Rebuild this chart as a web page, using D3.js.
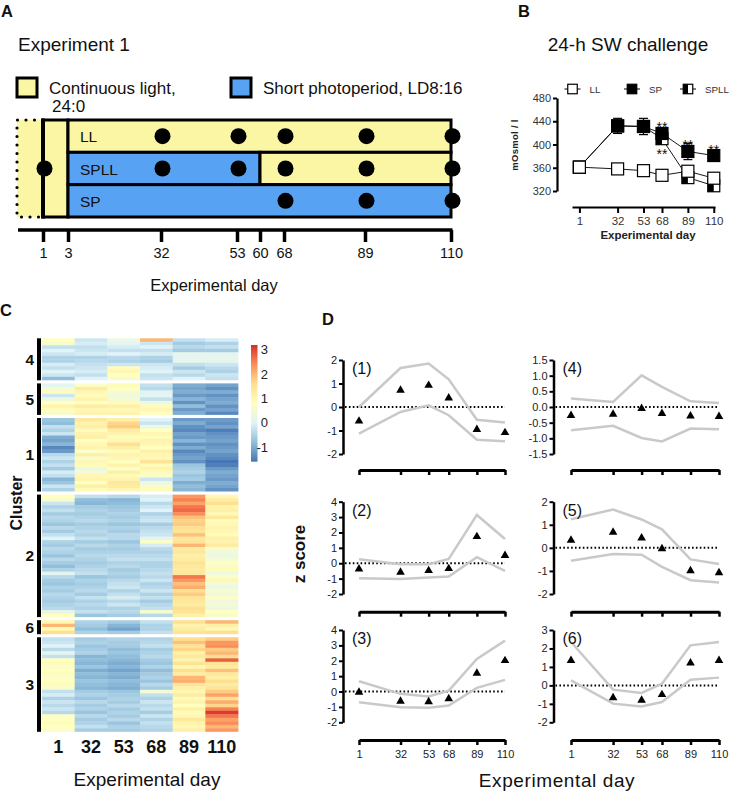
<!DOCTYPE html>
<html>
<head>
<meta charset="utf-8">
<script src="https://cdn.jsdelivr.net/npm/d3@7"></script>
<style>
  body { margin: 0; background: #fff; }
  svg { display: block; font-family: "Liberation Sans", Arial, Helvetica, sans-serif; }
</style>
</head>
<body>
<svg id="fig" width="732" height="794"></svg>
<script>
// ---------- Panel A: sampling design ----------
var scheduleDays = [1, 3, 32, 53, 60, 68, 89, 110];
var groups = ["LL", "SPLL", "SP"];
var sampledLL = [32, 53, 68, 89, 110];
var sampledSPLL = [32, 53, 68, 89, 110];
var sampledSP = [68, 89, 110];
var switchDay = 60;

// ---------- Panel B: 24-h SW challenge (mOsmol / l) ----------
var swDays = [1, 32, 53, 68, 89, 110];
var osmLL = [361, 358, 355, 347, 354, 342];
var osmSP = [361, 432, 431, 419, 388, 381];
var errSP = [0, 13, 14, 6, 14, 4];
var osmSPLL = [361, 432, 431, 410, 343, 329];
var osmTicks = [320, 360, 400, 440, 480];
var starsSP = [68, 89, 110];
var starsSPLL = [68];

// ---------- Panel C: heatmap, z-scored rows per cluster ----------
var heatDays = [1, 32, 53, 68, 89, 110];
var clusterOrder = [4, 5, 1, 2, 6, 3];
var rows4 = [
  [0.8,-0.2,0.3,2.0,-0.3,-0.1],[0.6,-0.1,0.1,-0.2,-0.6,-0.5],[-0.3,-0.3,-0.1,0.0,-0.4,-0.3],
  [0.0,-0.2,-0.3,-0.3,-0.6,-0.6],[-0.2,-0.1,0.0,-0.1,0.2,0.1],[-0.5,-0.5,-0.4,-0.5,0.1,0.2],
  [-0.5,-0.4,-0.5,-0.6,0.2,0.1],[-0.1,-0.3,-0.2,-0.2,-0.3,-0.2],[-0.3,-0.2,0.9,-0.1,-0.6,-0.4],
  [0.0,-0.1,1.0,0.0,-0.2,-0.5],[-0.2,-0.3,0.8,-0.3,-0.4,-0.2],[-0.8,0.0,0.6,-0.2,0.0,-0.3]
];
var rows5 = [
  [0.1,0.7,0.9,-0.3,-1.0,-1.1],[0.5,1.3,0.8,-0.4,-1.1,-1.3],[0.9,1.0,0.6,0.0,-1.0,-1.0],
  [-0.2,0.9,0.4,0.1,-1.2,-1.3],[0.3,1.1,0.5,-0.3,-0.9,-1.1],[0.8,0.8,0.9,0.3,-1.3,-1.0],
  [1.1,1.3,1.2,0.9,-0.8,-1.3],[0.9,1.0,1.0,1.0,-1.2,-1.1],[0.6,1.1,1.1,0.8,-1.0,-1.4]
];
var rows1 = [
  [-0.7,1.4,1.2,0.0,-1.2,-1.2],[-0.8,1.1,1.7,-0.2,-1.0,-1.3],[-0.3,1.2,1.8,0.3,-1.3,-1.1],
  [-0.5,0.9,1.3,0.8,-1.4,-1.5],[-0.2,1.1,1.1,1.0,-1.1,-1.3],[-1.0,1.2,0.9,0.9,-1.2,-1.2],
  [-1.1,0.8,1.0,1.1,-0.9,-1.1],[-0.9,1.0,1.6,1.0,-1.3,-1.3],[-1.4,1.1,1.2,0.8,-1.0,-1.2],
  [-1.2,0.7,0.9,1.2,-1.4,-1.1],[-0.4,1.2,1.1,1.0,-1.2,-1.3],[-0.2,0.6,1.0,1.0,-1.1,-1.4],
  [-0.5,1.0,0.8,1.5,-1.3,-1.6],[-0.3,0.9,1.1,0.9,-0.7,-1.5],[-0.6,0.3,0.7,1.1,-0.6,-1.2],
  [-0.1,0.5,1.2,0.9,-0.5,-1.0],[-0.3,1.0,0.9,0.7,-0.7,-1.1],[-0.9,1.1,1.1,-0.2,-0.6,-1.2],
  [-0.7,0.8,1.4,0.3,-1.0,-1.0],[-0.2,1.2,1.3,0.6,-0.8,-1.1],[-0.5,0.9,1.0,0.9,-0.9,-1.3]
];
var rows2 = [
  [0.8,-0.3,-0.4,-0.1,2.3,1.0],[0.6,-0.8,-0.9,0.0,2.5,1.3],[-0.2,-0.9,-0.8,-0.4,2.2,1.6],
  [-0.5,-0.6,-0.7,-0.2,2.6,1.1],[-0.3,-0.5,-0.6,0.0,2.7,1.2],[-0.6,-0.6,-0.5,-0.5,2.4,1.0],
  [-0.4,-0.5,-0.6,-0.3,1.9,1.4],[-0.5,-0.4,-0.5,-0.2,1.7,0.9],[-0.7,-0.6,-0.7,-0.6,1.8,1.0],
  [-0.4,-0.5,-0.5,-0.4,1.6,1.1],[-0.6,-0.4,-0.6,-0.3,1.5,1.0],[-0.3,-0.5,-0.4,-0.2,1.9,0.9],
  [0.0,-0.3,-0.4,0.1,1.4,1.2],[-0.5,-0.6,-0.7,0.7,1.5,1.1],[-0.6,-0.4,-0.5,-0.1,2.0,1.3],
  [-0.4,-0.6,-0.6,-0.4,1.3,0.6],[-0.5,-0.5,-0.5,-0.5,1.4,0.4],[-0.7,-0.4,-0.4,-0.4,1.2,0.3],
  [-0.4,-0.5,-0.3,-0.3,1.3,0.5],[-0.6,-0.6,-0.5,-0.5,1.5,0.8],[-0.8,-0.5,-0.4,-0.5,1.4,0.6],
  [-0.5,-0.4,-0.6,-0.4,1.3,0.9],[0.1,-0.3,-0.5,-0.3,1.4,0.4],[-0.4,-0.7,-0.6,-0.4,2.6,0.7],
  [-0.6,-0.5,-0.4,-0.2,2.3,1.0],[-0.7,-0.6,-0.3,-0.5,1.9,0.5],[-0.5,-0.5,-0.2,-0.4,2.1,0.3],
  [-0.6,-0.4,-0.5,-0.2,1.6,0.6],[-0.4,-0.6,-0.3,-0.5,1.8,0.4],[-0.5,-0.3,-0.1,-0.3,1.5,0.7],
  [-0.6,-0.5,-0.4,-0.6,1.4,0.4],[-0.5,-0.4,-0.2,-0.4,1.3,0.5],[-0.4,-0.5,-0.5,-0.3,1.6,0.3],
  [0.2,-0.3,-0.4,0.6,1.5,0.8],[0.8,-0.7,-0.6,-0.4,1.2,0.6]
];
var rows6 = [
  [1.0,-0.5,-0.6,-0.3,1.6,2.0],[2.0,-0.6,-0.9,-0.5,1.1,1.2],
  [0.9,-0.8,-1.1,-0.5,1.3,1.0],[1.6,-0.5,-0.6,-0.3,1.5,1.6]
];
var rows3 = [
  [-0.3,-0.6,-0.5,-0.5,1.6,1.8],[-0.2,-0.5,-0.6,-0.4,1.9,2.3],[0.0,-0.7,-0.6,-0.3,1.5,2.4],
  [-0.4,-0.6,-0.8,-0.6,1.7,1.8],[0.1,-0.5,-0.7,-0.5,1.2,2.0],[-0.3,-0.9,-0.8,-0.4,1.4,1.6],
  [0.8,-0.8,-0.9,-0.6,1.1,2.8],[0.9,-0.9,-1.0,-0.7,1.5,1.5],[0.7,-0.7,-0.9,-0.5,1.0,1.3],
  [0.8,-1.0,-1.1,-0.8,1.6,1.9],[0.9,-0.8,-0.9,-0.6,1.3,1.4],[0.7,-0.9,-1.0,-0.5,2.0,1.2],
  [0.8,-0.7,-0.8,-0.7,2.1,1.6],[0.9,-0.8,-0.9,-0.4,1.5,1.3],[0.6,-0.9,-1.0,-0.6,1.2,1.5],
  [-0.3,-0.6,-0.7,0.5,1.0,1.8],[-0.1,-0.5,-0.6,-0.3,1.3,2.2],[-0.5,-0.7,-0.5,-0.5,0.9,1.6],
  [-0.2,-0.4,-0.6,-0.2,1.1,2.1],[-0.4,-0.6,-0.4,-0.4,0.8,1.7],[-0.2,-0.5,-0.6,-0.3,1.2,2.5],
  [-0.4,-0.7,-0.5,-0.6,0.9,3.1],[0.7,-0.4,-0.6,-0.2,1.0,2.6],[0.8,-0.6,-0.4,-0.5,1.4,2.2],
  [0.9,-0.5,-0.7,-0.3,1.1,2.4],[0.8,-0.3,-0.5,-0.4,1.0,2.0],[0.7,-0.6,-0.6,-0.5,1.2,2.3]
];
var colorStops = [-1.6, -0.8, 0, 0.8, 1.6, 2.4, 3.2];
var colorbarTicks = [3, 2, 1, 0, -1];

// ---------- Panel D: cluster mean z score (triangles) with band (grey) ----------
var zDays = [1, 32, 53, 68, 89, 110];
var z1Mean  = [-0.60, 0.71, 0.92, 0.38, -0.96, -1.09];
var z1Upper = [0.00, 1.66, 1.85, 1.18, -0.54, -0.66];
var z1Lower = [-1.13, -0.21, 0.07, -0.35, -1.39, -1.46];
var z1Ticks = [-2, -1, 0, 1, 2];
var z2Mean  = [-0.37, -0.58, -0.48, -0.35, 1.73, 0.50];
var z2Upper = [0.26, -0.06, -0.06, 0.28, 3.14, 1.58];
var z2Lower = [-0.97, -1.02, -0.93, -0.87, 0.39, -0.50];
var z2Ticks = [-2, -1, 0, 1, 2, 3, 4];
var z3Mean  = [-0.04, -0.63, -0.66, -0.47, 1.19, 2.01];
var z3Upper = [0.67, -0.15, -0.32, 0.06, 2.12, 3.31];
var z3Lower = [-0.69, -1.02, -1.06, -0.91, 0.24, 0.76];
var z3Ticks = [-2, -1, 0, 1, 2, 3, 4];
var z4Mean  = [-0.27, -0.23, -0.05, -0.21, -0.29, -0.30];
var z4Upper = [0.27, 0.16, 1.01, 0.64, 0.18, 0.13];
var z4Lower = [-0.74, -0.60, -0.99, -1.10, -0.69, -0.71];
var z4Ticks = [-1.5, -1, -0.5, 0, 0.5, 1, 1.5];
var z5Mean  = [0.33, 0.68, 0.43, -0.04, -0.99, -1.08];
var z5Upper = [1.24, 1.66, 1.23, 0.80, -0.50, -0.70];
var z5Lower = [-0.56, -0.27, -0.30, -0.82, -1.40, -1.50];
var z5Ticks = [-2, -1, 0, 1, 2];
var z6Mean  = [1.35, -0.67, -0.81, -0.50, 1.21, 1.35];
var z6Upper = [2.35, -0.23, -0.41, 0.09, 2.17, 2.35];
var z6Lower = [0.27, -0.99, -1.14, -0.90, 0.31, 0.42];
var z6Ticks = [-2, -1, 0, 1, 2, 3];

var YEL = "#FAF6A4", BLU = "#57A2F2";
var svg = d3.select("#fig");

function label(g, x, y, s, size, opt) {
  opt = opt || {};
  return g.append("text").attr("x", x).attr("y", y)
    .attr("font-size", size)
    .attr("font-weight", opt.bold ? "bold" : null)
    .attr("text-anchor", opt.anchor || "start")
    .attr("fill", opt.fill || "#111")
    .text(s);
}

// panel letters
label(svg, 1, 17, "A", 16.5, {bold: true});
label(svg, 518, 17, "B", 16.5, {bold: true});
label(svg, 0, 316, "C", 16.5, {bold: true});
label(svg, 322, 325, "D", 16.5, {bold: true});

// ================= Panel A =================
(function() {
  var g = svg.append("g");
  var xA = d3.scaleLinear().domain(scheduleDays)
             .range([43, 68, 161, 237, 260, 284, 365, 451]);
  var yA = d3.scaleBand().domain(groups).range([120, 217]);
  var top = yA.range()[0], bot = yA.range()[1];

  label(g, 18, 51, "Experiment 1", 19);

  // legend
  g.append("rect").attr("x", 17).attr("y", 78).attr("width", 20).attr("height", 19)
   .attr("fill", YEL).attr("stroke", "#000").attr("stroke-width", 3);
  label(g, 49, 94, "Continuous light,", 17);
  label(g, 52, 112, "24:0", 17);
  g.append("rect").attr("x", 231).attr("y", 78).attr("width", 20).attr("height", 19)
   .attr("fill", BLU).attr("stroke", "#000").attr("stroke-width", 3);
  label(g, 263, 94, "Short photoperiod, LD8:16", 17);

  // period before day 1 (dotted)
  g.append("rect").attr("x", 17).attr("y", top).attr("width", xA(1) - 17)
   .attr("height", bot - top).attr("fill", YEL);
  g.append("path").attr("d", "M" + xA(1) + "," + top + "H17V" + bot + "H" + xA(1))
   .attr("fill", "none").attr("stroke", "#000").attr("stroke-width", 3.2)
   .attr("stroke-dasharray", "0,8.5").attr("stroke-linecap", "round");

  // day 1-3 common acclimation
  g.append("rect").attr("x", xA(1)).attr("y", top).attr("width", xA(3) - xA(1))
   .attr("height", bot - top).attr("fill", YEL).attr("stroke", "#000").attr("stroke-width", 3);

  var segs = [
    {g: "LL", from: 3, to: 110, fill: YEL},
    {g: "SPLL", from: 3, to: switchDay, fill: BLU},
    {g: "SPLL", from: switchDay, to: 110, fill: YEL},
    {g: "SP", from: 3, to: 110, fill: BLU}
  ];
  g.selectAll("rect.seg").data(segs).join("rect").attr("class", "seg")
   .attr("x", function(d) { return xA(d.from); })
   .attr("y", function(d) { return yA(d.g); })
   .attr("width", function(d) { return xA(d.to) - xA(d.from); })
   .attr("height", yA.bandwidth())
   .attr("fill", function(d) { return d.fill; })
   .attr("stroke", "#000").attr("stroke-width", 3);
  g.append("line").attr("x1", xA(1)).attr("x2", xA(1)).attr("y1", top - 1.5).attr("y2", bot + 1.5)
   .attr("stroke", "#000").attr("stroke-width", 4);

  g.selectAll("text.grp").data(groups).join("text").attr("class", "grp")
   .attr("x", xA(3) + 12).attr("y", function(d) { return yA(d) + yA.bandwidth() / 2 + 6; })
   .attr("font-size", 15.5).attr("fill", "#111").text(function(d) { return d; });

  var dots = [];
  sampledLL.forEach(function(d) { dots.push({g: "LL", day: d}); });
  sampledSPLL.forEach(function(d) { dots.push({g: "SPLL", day: d}); });
  sampledSP.forEach(function(d) { dots.push({g: "SP", day: d}); });
  g.selectAll("circle.s").data(dots).join("circle").attr("class", "s")
   .attr("cx", function(d) { return xA(d.day) + 1.5; })
   .attr("cy", function(d) { return yA(d.g) + yA.bandwidth() / 2; })
   .attr("r", 8).attr("fill", "#000");
  g.append("circle").attr("cx", xA(1) + 1.5).attr("cy", (top + bot) / 2).attr("r", 8).attr("fill", "#000");

  // time axis
  var ax = g.append("g").attr("transform", "translate(0,230)")
    .call(d3.axisBottom(xA).tickValues(scheduleDays).tickSize(12).tickSizeOuter(0).tickPadding(6));
  ax.select(".domain").remove();
  ax.selectAll(".tick line").attr("stroke-width", 3.5);
  ax.selectAll(".tick text").attr("font-size", 14.5).attr("fill", "#111")
    .attr("font-family", null);
  g.append("line").attr("x1", 18).attr("x2", xA(110) + 1.5).attr("y1", 230).attr("y2", 230)
   .attr("stroke", "#000").attr("stroke-width", 3.5);
  label(g, 214, 291, "Experimental day", 16.5, {anchor: "middle"});
})();

// ================= Panel B =================
(function() {
  var g = svg.append("g");
  var xB = d3.scaleLinear().domain([-5, 111]).range([572, 715]);
  var yB = d3.scaleLinear().domain([320, 480]).range([191, 98]);

  label(g, 628, 51, "24-h SW challenge", 19, {anchor: "middle"});

  var yAx = g.append("g").attr("transform", "translate(557,0)")
    .call(d3.axisLeft(yB).tickValues(osmTicks).tickSize(4).tickSizeOuter(0).tickPadding(2)
          .tickFormat(function(d) { return d; }));
  yAx.select(".domain").attr("stroke-width", 2.2);
  yAx.selectAll(".tick line").attr("stroke-width", 2);
  yAx.selectAll(".tick text").attr("font-size", 11).attr("fill", "#333").attr("font-family", null);

  var xAx = g.append("g").attr("transform", "translate(0,207)")
    .call(d3.axisBottom(xB).tickValues(swDays).tickSize(6).tickSizeOuter(0).tickPadding(4));
  xAx.select(".domain").attr("stroke-width", 2.2);
  xAx.selectAll(".tick line").attr("stroke-width", 2);
  xAx.selectAll(".tick text").attr("font-size", 11.5).attr("fill", "#333").attr("font-family", null);

  g.append("text").attr("transform", "translate(518,145) rotate(-90)")
   .attr("text-anchor", "middle").attr("font-size", 9.5).attr("font-weight", "bold")
   .attr("letter-spacing", 0.3).attr("fill", "#222").text("mOsmol / l");
  label(g, 648, 239, "Experimental day", 11.5, {bold: true, anchor: "middle", fill: "#222"});

  var series = [
    {key: "SPLL", values: osmSPLL, kind: "half"},
    {key: "SP", values: osmSP, err: errSP, kind: "filled"},
    {key: "LL", values: osmLL, kind: "open"}
  ];

  function marker(sel, kind, s) {
    sel.append("rect").attr("x", -s / 2).attr("y", -s / 2).attr("width", s).attr("height", s)
       .attr("fill", kind === "filled" ? "#000" : "#fff")
       .attr("stroke", "#000").attr("stroke-width", 1.2);
    if (kind === "half") {
      sel.append("rect").attr("x", -s / 2).attr("y", -s / 2).attr("width", s / 2).attr("height", s)
         .attr("fill", "#000");
    }
  }

  series.forEach(function(s) {
    var pts = swDays.map(function(d, i) {
      return {day: d, v: s.values[i], e: s.err ? s.err[i] : 0};
    });
    var sg = g.append("g");
    sg.append("path").datum(pts)
      .attr("d", d3.line().x(function(p) { return xB(p.day); }).y(function(p) { return yB(p.v); }))
      .attr("fill", "none").attr("stroke", "#000").attr("stroke-width", 0.9);
    if (s.err) {
      var eb = sg.selectAll("g.eb").data(pts.filter(function(p) { return p.e > 0; })).join("g");
      eb.append("line").attr("x1", function(p) { return xB(p.day); })
        .attr("x2", function(p) { return xB(p.day); })
        .attr("y1", function(p) { return yB(p.v - p.e); })
        .attr("y2", function(p) { return yB(p.v + p.e); })
        .attr("stroke", "#000").attr("stroke-width", 1.2);
      [-1, 1].forEach(function(sign) {
        eb.append("line").attr("x1", function(p) { return xB(p.day) - 4.5; })
          .attr("x2", function(p) { return xB(p.day) + 4.5; })
          .attr("y1", function(p) { return yB(p.v + sign * p.e); })
          .attr("y2", function(p) { return yB(p.v + sign * p.e); })
          .attr("stroke", "#000").attr("stroke-width", 1.2);
      });
    }
    var m = sg.selectAll("g.m").data(pts).join("g")
      .attr("transform", function(p) { return "translate(" + xB(p.day) + "," + yB(p.v) + ")"; });
    m.each(function() { marker(d3.select(this), s.kind, 12); });
  });

  g.selectAll("text.sp").data(starsSP).join("text").attr("class", "sp")
   .attr("x", function(d) { return xB(d); })
   .attr("y", function(d) { return yB(osmSP[swDays.indexOf(d)]) - 1; })
   .attr("text-anchor", "middle").attr("font-size", 14).attr("fill", "#111").text("**");
  g.selectAll("text.spll").data(starsSPLL).join("text").attr("class", "spll")
   .attr("x", function(d) { return xB(d); })
   .attr("y", function(d) { return yB(osmSPLL[swDays.indexOf(d)]) + 20; })
   .attr("text-anchor", "middle").attr("font-size", 14).attr("fill", "#111").text("**");

  // legend
  var leg = [{key: "LL", kind: "open", x: 572.5}, {key: "SP", kind: "filled", x: 632},
             {key: "SPLL", kind: "half", x: 688}];
  var lg = g.selectAll("g.leg").data(leg).join("g")
    .attr("transform", function(d) { return "translate(" + d.x + ",89)"; });
  lg.append("line").attr("x1", -8).attr("x2", 8).attr("stroke", "#000").attr("stroke-width", 1);
  lg.each(function(d) { marker(d3.select(this), d.kind, 9.5); });
  lg.append("text").attr("x", 17).attr("y", 3.5).attr("font-size", 9.8).attr("fill", "#333")
    .text(function(d) { return d.key; });
})();

// ================= Panel C =================
(function() {
  var g = svg.append("g");
  var rowsById = {1: rows1, 2: rows2, 3: rows3, 4: rows4, 5: rows5, 6: rows6};
  var xC = d3.scaleBand().domain(heatDays).range([42, 238]);
  var color = d3.scaleLinear().domain(colorStops)
                .range(d3.schemeRdYlBu[7].slice().reverse());
  var rowH = 3.5, gap = 3.1, yCur = 338.3;
  var clusters = clusterOrder.map(function(id) {
    var c = {id: id, rows: rowsById[id], y0: yCur};
    c.y1 = yCur + c.rows.length * rowH;
    yCur = c.y1 + gap;
    return c;
  });

  clusters.forEach(function(c) {
    var yR = d3.scaleBand().domain(d3.range(c.rows.length)).range([c.y0, c.y1]);
    var cells = [];
    c.rows.forEach(function(r, i) {
      r.forEach(function(v, j) { cells.push({row: i, day: heatDays[j], v: v}); });
    });
    g.append("g").selectAll("rect").data(cells).join("rect")
     .attr("x", function(d) { return xC(d.day); })
     .attr("y", function(d) { return yR(d.row); })
     .attr("width", xC.bandwidth() + 0.4)
     .attr("height", function(d) { return d.row === c.rows.length - 1 ? yR.bandwidth() : yR.bandwidth() + 0.4; })
     .attr("fill", function(d) { return color(d.v); });
    g.append("rect").attr("x", 37).attr("y", c.y0).attr("width", 4).attr("height", c.y1 - c.y0)
     .attr("fill", "#000");
    label(g, 34, (c.y0 + c.y1) / 2 + 5.5, c.id, 15.5, {bold: true, anchor: "end"});
  });

  g.selectAll("text.col").data(heatDays).join("text").attr("class", "col")
   .attr("x", function(d) { return xC(d) + xC.bandwidth() / 2; }).attr("y", 753)
   .attr("text-anchor", "middle").attr("font-size", 18).attr("font-weight", "bold")
   .attr("fill", "#111").text(function(d) { return d; });
  label(g, 147, 786, "Experimental day", 19, {anchor: "middle"});
  g.append("text").attr("transform", "translate(22,503) rotate(-90)")
   .attr("text-anchor", "middle").attr("font-size", 16).attr("font-weight", "bold")
   .attr("fill", "#111").text("Cluster");

  // colour key
  var yK = d3.scaleLinear().domain([-1.6, 3.2]).range([461.7, 345]);
  var grad = svg.append("defs").append("linearGradient").attr("id", "key")
    .attr("x1", 0).attr("y1", 1).attr("x2", 0).attr("y2", 0);
  grad.selectAll("stop").data(colorStops).join("stop")
    .attr("offset", function(d) { return (d - colorStops[0]) / (colorStops[6] - colorStops[0]); })
    .attr("stop-color", function(d) { return color(d); });
  g.append("rect").attr("x", 251).attr("y", yK(3.2)).attr("width", 6.5)
   .attr("height", yK(-1.6) - yK(3.2)).attr("fill", "url(#key)");
  g.selectAll("text.key").data(colorbarTicks).join("text").attr("class", "key")
   .attr("x", 268).attr("y", function(d) { return yK(d) + 4.5; })
   .attr("text-anchor", "end").attr("font-size", 13).attr("fill", "#222")
   .text(function(d) { return d < 0 ? "-" + Math.abs(d) : d; });
})();

// ================= Panel D =================
(function() {
  var g = svg.append("g");
  var panels = [
    {id: 1, mean: z1Mean, upper: z1Upper, lower: z1Lower, ticks: z1Ticks},
    {id: 2, mean: z2Mean, upper: z2Upper, lower: z2Lower, ticks: z2Ticks},
    {id: 3, mean: z3Mean, upper: z3Upper, lower: z3Lower, ticks: z3Ticks},
    {id: 4, mean: z4Mean, upper: z4Upper, lower: z4Lower, ticks: z4Ticks},
    {id: 5, mean: z5Mean, upper: z5Upper, lower: z5Lower, ticks: z5Ticks},
    {id: 6, mean: z6Mean, upper: z6Upper, lower: z6Lower, ticks: z6Ticks}
  ];
  var cols = [{axisX: 343, range: [359, 505]}, {axisX: 553.5, range: [571, 719]}];
  var rowsL = [{top: 360, bottom: 454, xAxisY: 470},
               {top: 501.7, bottom: 594, xAxisY: 611.7},
               {top: 630, bottom: 722.3, xAxisY: 740}];

  panels.forEach(function(p, i) {
    var col = cols[i < 3 ? 0 : 1], row = rowsL[i % 3];
    var x = d3.scaleLinear().domain([1, 110]).range(col.range);
    var y = d3.scaleLinear().domain(d3.extent(p.ticks)).range([row.bottom, row.top]);
    var pg = g.append("g");
    var dec = p.ticks.some(function(t) { return t % 1 !== 0; });

    var yAx = pg.append("g").attr("transform", "translate(" + col.axisX + ",0)")
      .call(d3.axisLeft(y).tickValues(p.ticks).tickSize(4).tickSizeOuter(0).tickPadding(2)
            .tickFormat(function(d) { return dec ? d.toFixed(1) : String(d); }));
    yAx.select(".domain").attr("stroke-width", 2.5);
    yAx.selectAll(".tick line").attr("stroke-width", 2);
    yAx.selectAll(".tick text").attr("font-size", 11).attr("fill", "#222").attr("font-family", null);

    var last = i % 3 === 2;
    var xAx = pg.append("g").attr("transform", "translate(0," + row.xAxisY + ")")
      .call(d3.axisBottom(x).tickValues(zDays).tickSize(5).tickSizeOuter(0).tickPadding(5)
            .tickFormat(last ? function(d) { return d; } : function() { return ""; }));
    xAx.select(".domain").attr("stroke-width", 3);
    xAx.selectAll(".tick line").attr("stroke-width", 2.5);
    xAx.selectAll(".tick text").attr("font-size", 11).attr("fill", "#222").attr("font-family", null);

    // zero reference
    pg.append("line").attr("x1", col.axisX + 2).attr("x2", x(110)).attr("y1", y(0)).attr("y2", y(0))
      .attr("stroke", "#000").attr("stroke-width", 2).attr("stroke-dasharray", "1.6,2.3");

    [p.upper, p.lower].forEach(function(arr) {
      pg.append("path").datum(arr)
        .attr("d", d3.line().x(function(d, k) { return x(zDays[k]); }).y(function(d) { return y(d); }))
        .attr("fill", "none").attr("stroke", "#c9c9c9").attr("stroke-width", 2.5);
    });

    pg.selectAll("path.tri").data(p.mean).join("path").attr("class", "tri")
      .attr("d", d3.symbol().type(d3.symbolTriangle).size(32))
      .attr("transform", function(d, k) { return "translate(" + x(zDays[k]) + "," + y(d) + ")"; })
      .attr("fill", "#000");

    label(pg, col.axisX + 9, row.top + 14, "(" + p.id + ")", 16, {fill: "#111"});
  });

  g.append("text").attr("transform", "translate(305,554) rotate(-90)")
   .attr("text-anchor", "middle").attr("font-size", 17).attr("font-weight", "bold")
   .attr("fill", "#111").text("z score");
  g.append("text").attr("x", 557).attr("y", 787).attr("text-anchor", "middle")
   .attr("font-size", 19).attr("letter-spacing", 0.6).attr("fill", "#111").text("Experimental day");
})();
</script>
</body>
</html>
